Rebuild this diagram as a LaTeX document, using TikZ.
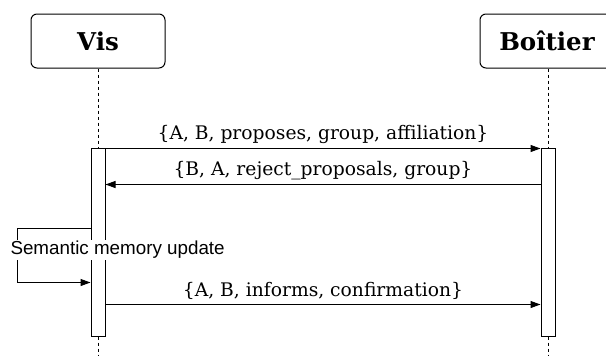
\documentclass[tikz,border=0pt]{standalone}
\usepackage{fontspec}
\setmainfont{DejaVu Serif}
\newfontfamily\notefont{Liberation Sans}
\usetikzlibrary{arrows.meta}

\tikzset{
  actor/.style={draw,rounded corners=6pt,minimum width=134pt,minimum height=54pt,
                font=\fontsize{24.5}{28}\selectfont\bfseries},
  activation/.style={draw,fill=white,minimum width=14pt,minimum height=188pt,inner sep=0pt},
  lifeline/.style={dash pattern=on 3pt off 3pt},
  msg/.style={->},
  msglabel/.style={font=\fontsize{18.7}{21}\selectfont,inner sep=1pt}
}

\begin{document}
\begin{tikzpicture}[x=1pt,y=-1pt,>={Triangle[length=10pt,width=7pt]},line width=1pt]
  \clip (0,0) rectangle (606,356);
  \useasboundingbox (0,0) rectangle (606,356);

  \path   ( 98, 41) node[actor] (vis) {Vis}
          (547, 41) node[actor] (boitier) {Boîtier};

  \path   ( 98,242) node[activation] (visbar) {}
          (548,242) node[activation] (boxbar) {};

  \coordinate (visend) at ( 98,356);
  \coordinate (boxend) at (548,356);

  % lifelines
  \draw[lifeline] (vis.south) -- (visbar.north);
  \draw[lifeline] (visbar.south) -- (visend);
  \draw[lifeline] (boitier.south -| boxbar) -- (boxbar.north);
  \draw[lifeline] (boxbar.south) -- (boxend);

  % message rows
  \coordinate (row1) at (0,148.5);
  \coordinate (row2) at (0,184.5);
  \coordinate (row3) at (0,304.5);
  \coordinate (selftop) at (17,228.5);
  \coordinate (selfbot) at (17,282.5);

  \draw[msg] (visbar.east |- row1) -- node[msglabel,above=3pt] (lab1)
             {\{A, B, proposes, group, affiliation\}} (boxbar.west |- row1);
  \draw[msg] (boxbar.west |- row2) -- node[msglabel,above=3pt] (lab2)
             {\{B, A, reject\_proposals, group\}} (visbar.east |- row2);
  \draw[msg] (visbar.east |- row3) -- node[msglabel,above=3pt] (lab3)
             {\{A, B, informs, confirmation\}} (boxbar.west |- row3);

  \draw[msg] (visbar.west |- selftop) -- (selftop) -- (selfbot) -- (visbar.west |- selfbot);
  \node[fill=white,inner sep=1pt,font=\notefont\fontsize{18.8}{21}\selectfont,anchor=west]
       (note) at (9,250) {Semantic memory update};
\end{tikzpicture}
\end{document}
